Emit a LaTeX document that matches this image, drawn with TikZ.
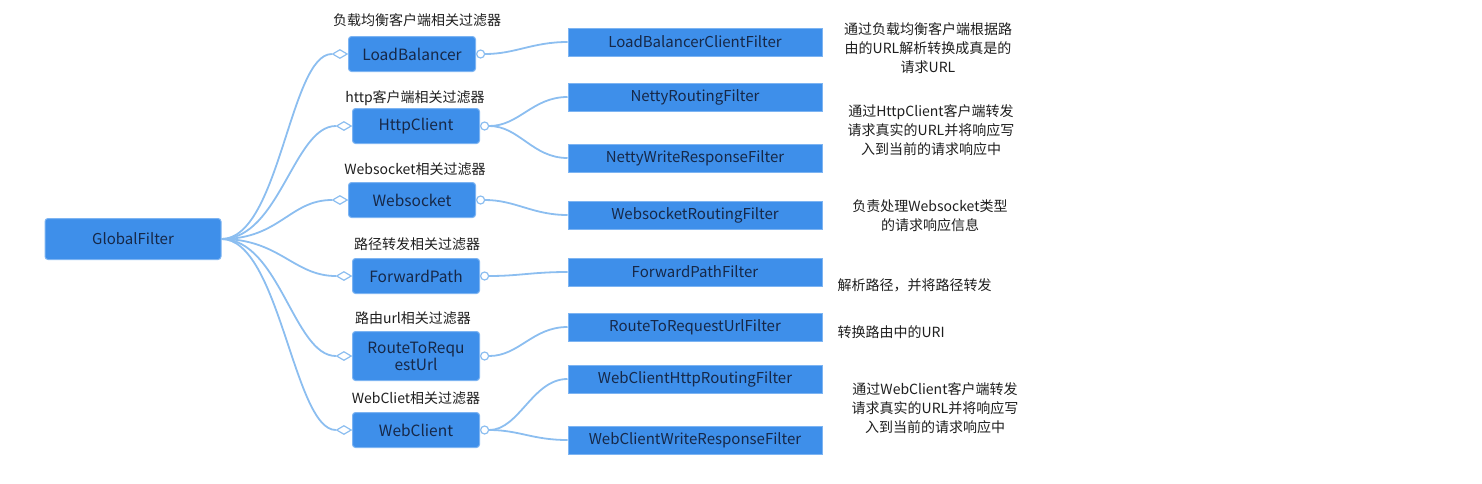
\documentclass[tikz,border=0pt]{standalone}
\usepackage{fontspec}
\setmainfont{Noto Sans CJK SC}
\usetikzlibrary{calc,shapes.geometric}
\definecolor{boxBlue}{RGB}{62,143,234}
\definecolor{boxEdge}{RGB}{125,180,242}
\definecolor{boxText}{RGB}{22,40,72}
\definecolor{branchBlue}{RGB}{140,190,240}
\definecolor{noteGray}{RGB}{30,30,30}

\begin{document}
\begin{tikzpicture}[x=1pt,y=-1pt,
    rootbox/.style={fill=boxBlue,draw=boxEdge,line width=1pt,rounded corners=3pt,
      minimum width=176pt,minimum height=41pt,text=boxText,
      font=\fontsize{15}{18}\selectfont},
    midbox/.style={fill=boxBlue,draw=boxEdge,line width=1pt,rounded corners=3pt,
      minimum width=127pt,minimum height=35pt,text=boxText,align=center,
      font=\fontsize{15.5}{18}\selectfont},
    leafbox/.style={fill=boxBlue,draw=boxEdge,line width=1pt,
      minimum width=254pt,minimum height=28pt,text=boxText,
      font=\fontsize{15}{17}\selectfont},
    tag/.style={text=noteGray,font=\fontsize{14}{16}\selectfont},
    note/.style={text=noteGray,align=center,font=\fontsize{14}{19}\selectfont},
    joint/.style={diamond,draw=branchBlue,fill=white,line width=1.2pt,
      minimum width=15pt,minimum height=9pt,inner sep=0pt},
    knob/.style={circle,draw=branchBlue,fill=white,line width=1.2pt,
      minimum size=8pt,inner sep=0pt},
    branch/.style={draw=branchBlue,line width=1.8pt}
  ]
    \useasboundingbox (0,0) rectangle (1482,483);

    % racine
    \node[rootbox] (gf) at (133,239) {GlobalFilter};

    % filtres intermediaires
    \node[midbox] (lb) at (412,54) {LoadBalancer};
    \node[tag] (lbTag) at (417,20) {负载均衡客户端相关过滤器};
    \node[midbox] (hc) at (416,126) {HttpClient};
    \node[tag] (hcTag) at (415,98) {http客户端相关过滤器};
    \node[midbox] (ws) at (412,200) {Websocket};
    \node[tag] (wsTag) at (415,169) {Websocket相关过滤器};
    \node[midbox] (fp) at (416,276) {ForwardPath};
    \node[tag] (fpTag) at (417,244) {路径转发相关过滤器};
    \node[midbox,minimum height=49pt] (ru) at (416,356) {RouteToRequ\\[-1pt]estUrl};
    \node[tag] (ruTag) at (413,318) {路由url相关过滤器};
    \node[midbox] (wc) at (416,430) {WebClient};
    \node[tag] (wcTag) at (416,398) {WebCliet相关过滤器};

    % losanges et ronds
    \node[joint,anchor=east] (lbIn) at (lb.west) {};
    \node[joint,anchor=east] (hcIn) at (hc.west) {};
    \node[joint,anchor=east] (wsIn) at (ws.west) {};
    \node[joint,anchor=east] (fpIn) at (fp.west) {};
    \node[joint,anchor=east] (ruIn) at (ru.west) {};
    \node[joint,anchor=east] (wcIn) at (wc.west) {};
    \node[knob,anchor=west] (lbOut) at (lb.east) {};
    \node[knob,anchor=west] (hcOut) at (hc.east) {};
    \node[knob,anchor=west] (wsOut) at (ws.east) {};
    \node[knob,anchor=west] (fpOut) at (fp.east) {};
    \node[knob,anchor=west] (ruOut) at (ru.east) {};
    \node[knob,anchor=west] (wcOut) at (wc.east) {};

    % filtres finaux
    \node[leafbox] (lbcf) at (695,42) {LoadBalancerClientFilter};
    \node[leafbox] (nrf) at (695,97) {NettyRoutingFilter};
    \node[leafbox] (nwf) at (695,158) {NettyWriteResponseFilter};
    \node[leafbox] (wrf) at (695,215) {WebsocketRoutingFilter};
    \node[leafbox] (fpf) at (695,272) {ForwardPathFilter};
    \node[leafbox] (rtf) at (695,327) {RouteToRequestUrlFilter};
    \node[leafbox] (whf) at (695,379) {WebClientHttpRoutingFilter};
    \node[leafbox] (wwf) at (695,440) {WebClientWriteResponseFilter};

    % descriptions
    \node[note] (lbNote) at (928,48) {通过负载均衡客户端根据路\\由的URL解析转换成真是的\\请求URL};
    \node[note] (hcNote) at (931,130) {通过HttpClient客户端转发\\请求真实的URL并将响应写\\入到当前的请求响应中};
    \node[note] (wsNote) at (930,216) {负责处理Websocket类型\\的请求响应信息};
    \node[note,anchor=west] (fpNote) at (834,285) {解析路径，并将路径转发};
    \node[note,anchor=west] (ruNote) at (834,332) {转换路由中的URI};
    \node[note] (wcNote) at (935,408) {通过WebClient客户端转发\\请求真实的URL并将响应写\\入到当前的请求响应中};

    % branches gauche
    \draw[branch] (gf.east) .. controls ($(gf.east)+(58,0)$) and ($(lbIn.west)+(-42,0)$) .. (lbIn.west);
    \draw[branch] (gf.east) .. controls ($(gf.east)+(58,0)$) and ($(hcIn.west)+(-42,0)$) .. (hcIn.west);
    \draw[branch] (gf.east) .. controls ($(gf.east)+(58,0)$) and ($(wsIn.west)+(-42,0)$) .. (wsIn.west);
    \draw[branch] (gf.east) .. controls ($(gf.east)+(58,0)$) and ($(fpIn.west)+(-42,0)$) .. (fpIn.west);
    \draw[branch] (gf.east) .. controls ($(gf.east)+(58,0)$) and ($(ruIn.west)+(-42,0)$) .. (ruIn.west);
    \draw[branch] (gf.east) .. controls ($(gf.east)+(58,0)$) and ($(wcIn.west)+(-42,0)$) .. (wcIn.west);

    % branches droite
    \draw[branch] (lbOut.east) .. controls ($(lbOut.east)+(30,0)$) and ($(lbcf.west)+(-35,0)$) .. (lbcf.west);
    \draw[branch] (hcOut.east) .. controls ($(hcOut.east)+(30,0)$) and ($(nrf.west)+(-35,0)$) .. (nrf.west);
    \draw[branch] (hcOut.east) .. controls ($(hcOut.east)+(30,0)$) and ($(nwf.west)+(-35,0)$) .. (nwf.west);
    \draw[branch] (wsOut.east) .. controls ($(wsOut.east)+(30,0)$) and ($(wrf.west)+(-35,0)$) .. (wrf.west);
    \draw[branch] (fpOut.east) .. controls ($(fpOut.east)+(30,0)$) and ($(fpf.west)+(-35,0)$) .. (fpf.west);
    \draw[branch] (ruOut.east) .. controls ($(ruOut.east)+(30,0)$) and ($(rtf.west)+(-35,0)$) .. (rtf.west);
    \draw[branch] (wcOut.east) .. controls ($(wcOut.east)+(30,0)$) and ($(whf.west)+(-35,0)$) .. (whf.west);
    \draw[branch] (wcOut.east) .. controls ($(wcOut.east)+(30,0)$) and ($(wwf.west)+(-35,0)$) .. (wwf.west);
  \end{tikzpicture}
\end{document}
